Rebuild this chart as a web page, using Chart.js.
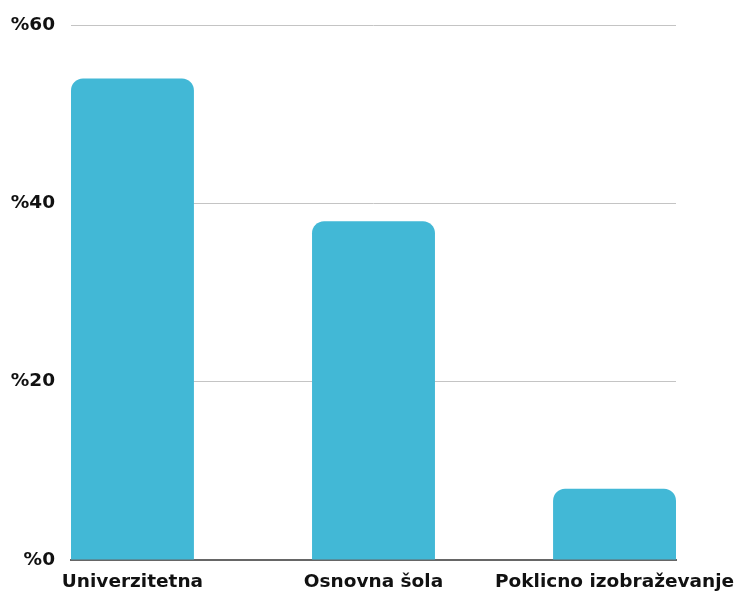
<!DOCTYPE html>
<html>
<head>
<meta charset="utf-8">
<script src="https://cdn.jsdelivr.net/npm/chart.js@4"></script>
<style>
  html, body { margin: 0; padding: 0; background: #fff; }
  #wrap { width: 741px; height: 592px; }
</style>
</head>
<body>
<div id="wrap"><canvas id="myChart"></canvas></div>
<script>
// data
const categories = ['Univerzitetna', 'Osnovna šola', 'Poklicno izobraževanje'];
const shares = [54, 38, 8];
const yTicks = [0, 20, 40, 60];

const points = categories.map((c, i) => ({ x: i, y: shares[i] }));

const data = {
    datasets: [
        {
            label: 'Delež',
            data: points,
            backgroundColor: '#42B8D6',
            borderRadius: { topLeft: 12, topRight: 12 },
            borderSkipped: 'bottom',
            categoryPercentage: 1,
            barPercentage: 0.51,
        },
    ]
};

const font = { family: 'DejaVu Sans', size: 18.5, weight: 'bold' };

const config = {
    type: 'bar',
    data: data,
    options: {
        responsive: true,
        maintainAspectRatio: false,
        animation: false,
        layout: { padding: { top: 25, right: 65, left: 0, bottom: 0 } },
        plugins: { legend: { display: false }, tooltip: { enabled: false } },
        scales: {
            x: {
                type: 'linear',
                offset: false,
                min: -0.255,
                max: 2.255,
                afterBuildTicks: (scale) => {
                    scale.ticks = categories.map((c, i) => ({ value: i }));
                },
                afterFit: (scale) => {
                    scale.height = 32;
                    scale.paddingLeft = 0;
                    scale.paddingRight = 0;
                },
                grid: { display: false, drawTicks: false, offset: false },
                border: { color: '#666666', width: 2 },
                ticks: {
                    callback: (v) => categories[v] || '',
                    color: '#111111',
                    font: font,
                    padding: 11,
                    maxRotation: 0,
                    autoSkip: false,
                },
            },
            y: {
                min: 0,
                max: 60,
                afterBuildTicks: (scale) => {
                    scale.ticks = yTicks.map((v) => ({ value: v }));
                },
                afterFit: (scale) => {
                    scale.width = 71;
                    scale.paddingTop = 0;
                    scale.paddingBottom = 0;
                },
                grid: { color: '#c4c4c4', lineWidth: 1, drawTicks: false },
                border: { display: false },
                ticks: {
                    callback: (v) => '%' + v,
                    color: '#111111',
                    font: font,
                    padding: 16,
                },
            },
        },
    }
};

const myChart = new Chart(document.getElementById('myChart'), config);
</script>
</body>
</html>
